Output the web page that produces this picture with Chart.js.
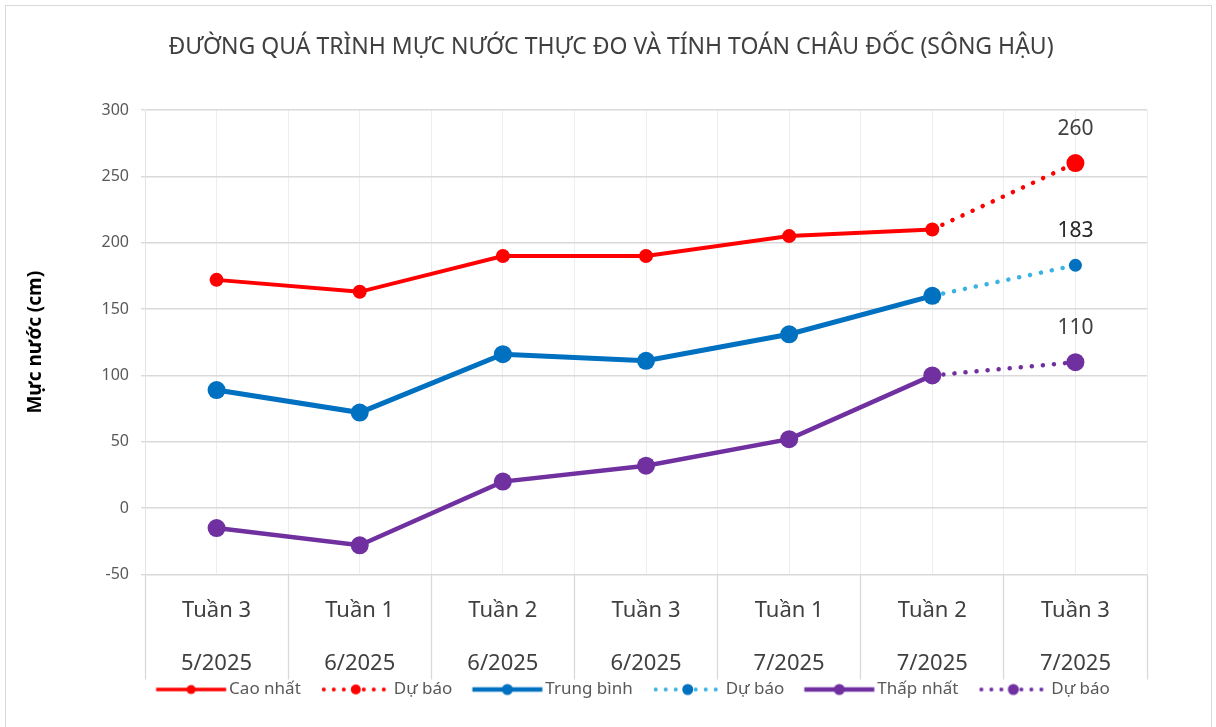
<!DOCTYPE html>
<html><head><meta charset="utf-8">
<script src="https://cdn.jsdelivr.net/npm/chart.js@4.4.1/dist/chart.umd.min.js"></script>
<style>
html,body{margin:0;padding:0;background:#fff;}
#wrap{position:relative;width:1216px;height:727px;overflow:hidden;}
#frame{position:absolute;left:5px;top:5px;width:1205px;height:740px;border:1px solid #d9d9d9;}
canvas{position:absolute;left:0;top:0;}
</style></head><body>
<div id="wrap"><div id="frame"></div><canvas id="c" width="1216" height="727"></canvas></div>
<script>
// ---- data ----
const categories = [["Tuần 3","5/2025"],["Tuần 1","6/2025"],["Tuần 2","6/2025"],["Tuần 3","6/2025"],["Tuần 1","7/2025"],["Tuần 2","7/2025"],["Tuần 3","7/2025"]];
const maxActual   = [172, 163, 190, 190, 205, 210, null];
const maxForecast = [null, null, null, null, null, 210, 260];
const avgActual   = [89, 72, 116, 111, 131, 160, null];
const avgForecast = [null, null, null, null, null, 160, 183];
const minActual   = [-15, -28, 20, 32, 52, 100, null];
const minForecast = [null, null, null, null, null, 100, 110];
const seriesNames = ["Cao nhất", "Dự báo", "Trung bình", "Dự báo", "Thấp nhất", "Dự báo"];
const yMin = -50, yMax = 300, yStep = 50;
const chartTitle = "ĐƯỜNG QUÁ TRÌNH MỰC NƯỚC THỰC ĐO VÀ TÍNH TOÁN CHÂU ĐỐC (SÔNG HẬU)";
const yTitle = "Mực nước (cm)";

// ---- styles ----
const FONT = "'Noto Sans', 'DejaVu Sans', sans-serif";
const RED = '#FF0000', BLUE = '#0070C0', CYAN = '#3BB2E4', PURPLE = '#7030A0';

function makeIcon(lineColor, dotColor, dotted, lw, r) {
  const W = 80, H = 16, a = 7.75, len = 70, cy = 8;
  const c = document.createElement('canvas');
  c.width = W; c.height = H;
  const g = c.getContext('2d');
  g.strokeStyle = lineColor; g.fillStyle = lineColor; g.lineWidth = lw;
  if (dotted) {
    for (let x = a + 3; x <= a + len - 2; x += 10) { g.beginPath(); g.arc(x, cy, lw / 2 + 0.3, 0, Math.PI * 2); g.fill(); }
  } else {
    g.beginPath(); g.moveTo(a, cy); g.lineTo(a + len, cy); g.stroke();
  }
  g.fillStyle = dotColor; g.beginPath(); g.arc(a + len / 2, cy, r, 0, Math.PI * 2); g.fill();
  return c;
}
const legendIcons = [
  makeIcon(RED, RED, false, 3.5, 4.5),
  makeIcon(RED, RED, true, 3.5, 5),
  makeIcon(BLUE, BLUE, false, 4.5, 5.5),
  makeIcon(CYAN, BLUE, true, 3.5, 5.5),
  makeIcon(PURPLE, PURPLE, false, 4.5, 5.5),
  makeIcon(PURPLE, PURPLE, true, 3.5, 5.5)
];

function actual(label, data, color, width, r) {
  return { label, data, borderColor: color, backgroundColor: color, borderWidth: width,
    pointRadius: r, pointHoverRadius: r, pointBackgroundColor: color, pointBorderColor: color,
    pointBorderWidth: 0, tension: 0, spanGaps: false };
}
function forecast(label, data, lineColor, pointColor, r, valueColor) {
  return { label, data, borderColor: lineColor, backgroundColor: pointColor, borderWidth: 4.5,
    borderDash: [0.1, 11], borderCapStyle: 'round',
    pointRadius: data.map((v, i) => (i === data.length - 1 ? r : 0)),
    pointHoverRadius: r, pointBackgroundColor: pointColor, pointBorderColor: pointColor,
    pointBorderWidth: 0, tension: 0, showValue: true, valueColor };
}

const valueLabels = {
  id: 'valueLabels',
  afterDatasetsDraw(chart) {
    const ctx = chart.ctx;
    chart.data.datasets.forEach((ds, i) => {
      if (!ds.showValue) return;
      const meta = chart.getDatasetMeta(i);
      const idx = ds.data.length - 1;
      const el = meta.data[idx];
      ctx.save();
      ctx.font = "21px " + FONT;
      ctx.fillStyle = ds.valueColor;
      ctx.textAlign = 'center'; ctx.textBaseline = 'middle';
      ctx.fillText(String(ds.data[idx]), el.x, el.y - 34);
      ctx.restore();
    });
  }
};
const legendShift = {
  id: 'legendShift',
  afterLayout(chart) { const lg = chart.legend; if (lg) { lg.left -= 13; lg.right -= 13; } }
};

new Chart(document.getElementById('c'), {
  type: 'line',
  data: {
    labels: categories,
    datasets: [
      actual(seriesNames[0], maxActual, RED, 4, 7),
      forecast(seriesNames[1], maxForecast, RED, RED, 9, '#404040'),
      actual(seriesNames[2], avgActual, BLUE, 5, 9),
      forecast(seriesNames[3], avgForecast, CYAN, BLUE, 6.5, '#262626'),
      actual(seriesNames[4], minActual, PURPLE, 4.5, 9),
      forecast(seriesNames[5], minForecast, PURPLE, PURPLE, 9, '#404040')
    ]
  },
  plugins: [valueLabels, legendShift],
  options: {
    responsive: false,
    devicePixelRatio: 1,
    animation: false,
    layout: { padding: { left: 6, right: 0, top: 0, bottom: 19 } },
    plugins: {
      title: { display: true, text: chartTitle, color: '#404040',
        font: { family: FONT, size: 23, weight: 'normal' }, padding: { top: 33.2, bottom: 49.2 } },
      legend: { position: 'bottom', fullSize: false, align: 'center',
        labels: { usePointStyle: true, pointStyleWidth: 64.5, color: '#595959', padding: 20,
          font: { family: FONT, size: 17 },
          generateLabels(chart) {
            const items = Chart.defaults.plugins.legend.labels.generateLabels(chart);
            items.forEach((it, i) => { it.pointStyle = legendIcons[i]; });
            return items;
          } } },
      tooltip: { enabled: false }
    },
    scales: {
      x: { offset: true,
        grid: { offset: true, color: '#EDEDED', lineWidth: 1, tickLength: 105, tickColor: '#D9D9D9', tickWidth: 1.3 },
        border: { display: false },
        ticks: { color: '#404040', font: { family: FONT, size: 22, lineHeight: '53px' }, mirror: true, padding: -62.5, maxRotation: 0, autoSkip: false },
        afterFit(s) { s.height = 86.5; } },
      x2: { type: 'category', position: 'top', offset: true,
        grid: { offset: false, color: '#EDEDED', lineWidth: 1, drawTicks: false },
        border: { display: false }, ticks: { display: false },
        afterFit(s) { s.height = 0; } },
      y: { min: yMin, max: yMax,
        ticks: { stepSize: yStep, color: '#595959', font: { family: FONT, size: 16 }, padding: 12 },
        grid: { color: '#D9D9D9', lineWidth: 1.4, tickLength: 4, tickColor: '#D9D9D9' },
        border: { display: true, color: '#E3E3E3' },
        title: { display: true, text: yTitle, color: '#000', font: { family: FONT, size: 19, weight: 'bold' }, padding: { top: 18, bottom: 0 } },
        afterFit(s) { s.width = 139; } },
      yR: { type: 'linear', position: 'right', display: true,
        grid: { display: false, drawTicks: false }, border: { display: false }, ticks: { display: false },
        afterFit(s) { s.width = 69; } }
    }
  }
});
</script>
</body></html>
